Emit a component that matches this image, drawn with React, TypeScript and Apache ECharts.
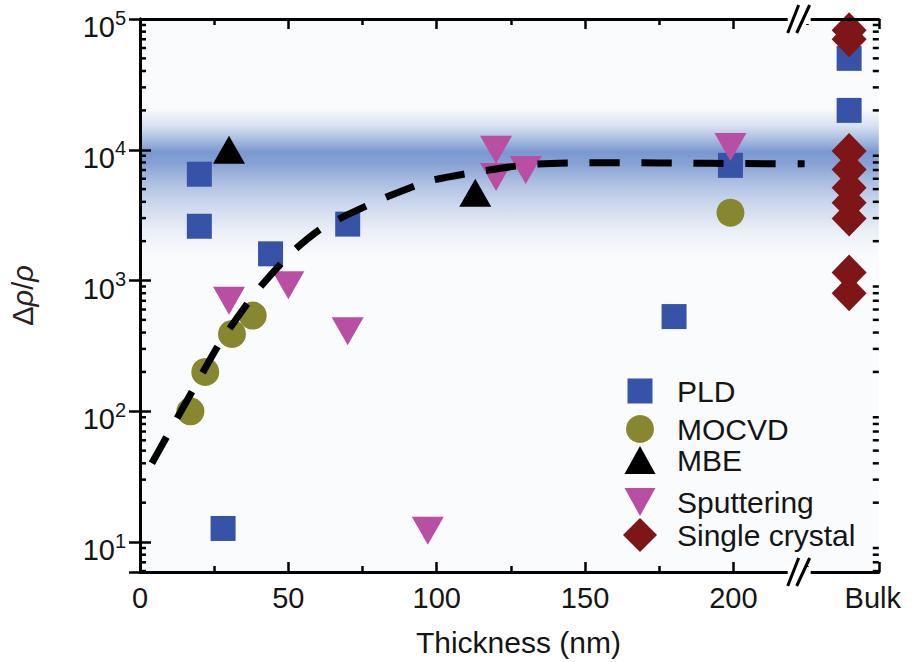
import React, { useEffect, useRef } from 'react';
import * as echarts from 'echarts';

// Axis extents (thickness in nm; resistance ratio on a log scale)
const X_MAX = 249;
const BULK_X = 239;
const BREAK_X = 222;
const Y_MIN = 5.9;
const Y_MAX = 100000;
const X_LABELS = [0, 50, 100, 150, 200];
const DECADES = [1, 10, 100, 1000, 10000];
const MANTISSAS = [2, 3, 4, 5, 6, 7, 8, 9];

// Measurements by growth technique
const PLD_X = [20, 20, 28, 44, 70, 180, 199, BULK_X, BULK_X];
const PLD_Y = [6500, 2600, 12.7, 1600, 2700, 530, 7600, 50000, 20000];

const MOCVD_X = [17, 22, 31, 38, 199];
const MOCVD_Y = [100, 200, 390, 540, 3300];

const MBE_X = [30, 113];
const MBE_Y = [10000, 4700];

const SPUT_X = [30, 50, 70, 97, 120, 120, 130, 199];
const SPUT_Y = [700, 920, 410, 12.2, 10000, 6200, 7000, 10500];

const SC_X = [BULK_X, BULK_X, BULK_X, BULK_X, BULK_X, BULK_X, BULK_X, BULK_X, BULK_X];
const SC_Y = [82000, 70000, 9800, 7050, 5130, 3940, 2980, 1150, 800];

// Guide-to-the-eye curve
const FIT_X = [4, 9, 19, 27, 39, 51, 62, 81, 97, 114, 131, 149, 166, 184, 200, 224];
const FIT_Y = [40, 64, 162, 336, 810, 1630, 2580, 4150, 5730, 6800, 7700, 7950, 7950, 7900, 7850, 7800];

// Shaded band around the bulk value
const BAND_TOP = 21000;
const BAND_BOTTOM = 1550;

const FONT = '"Liberation Sans", Arial, Helvetica, sans-serif';
const INK = '#151515';

const COLORS = {
  pld: '#3653a8',
  mocvd: '#86872f',
  mbe: '#000000',
  sput: '#b84fa3',
  sc: '#7e1517',
};

const zip = (xs: number[], ys: number[]) => xs.map((x, i) => [x, ys[i]]);

const MINOR_Y = DECADES.flatMap((d) => MANTISSAS.map((m) => m * d)).filter((v) => v > Y_MIN && v < Y_MAX);

const DOWN_TRIANGLE = 'path://M0,0L32,0L16,28Z';

const LEGEND_ROWS = [
  { name: 'PLD', center: 391, w: 25, h: 25, icon: 'rect' },
  { name: 'MOCVD', center: 429, w: 28, h: 28, icon: 'circle' },
  { name: 'MBE', center: 460, w: 31, h: 28, icon: 'triangle' },
  { name: 'Sputtering', center: 502, w: 31, h: 28, icon: DOWN_TRIANGLE },
  { name: 'Single crystal', center: 535, w: 34, h: 34, icon: 'diamond' },
];
const LEGEND_LINE = 32;
const LEGEND_ICON_CX = 640;
const LEGEND_TEXT_X = 677;

export default function App() {
  const ref = useRef<HTMLDivElement>(null);

  useEffect(() => {
    if (!ref.current) return;
    const chart = echarts.init(ref.current, null, { renderer: 'svg' });

    const axisLine = { show: true, lineStyle: { color: '#000', width: 3 } };

    const option: any = {
      animation: false,
      backgroundColor: '#ffffff',
      grid: {
        left: 140,
        right: 29,
        top: 19,
        bottom: 89,
        show: true,
        backgroundColor: '#fafbfd',
        borderWidth: 0,
      },
      legend: LEGEND_ROWS.map((r) => ({
        data: [{ name: r.name, icon: r.icon }],
        orient: 'vertical',
        left: LEGEND_ICON_CX - r.w / 2,
        top: r.center - Math.max(r.h, LEGEND_LINE) / 2,
        padding: 0,
        itemWidth: r.w,
        itemHeight: r.h,
        symbolKeepAspect: false,
        selectedMode: false,
        textStyle: {
          fontSize: 30,
          color: INK,
          fontFamily: FONT,
          lineHeight: LEGEND_LINE,
          padding: [0, 0, 0, LEGEND_TEXT_X - (LEGEND_ICON_CX + r.w / 2 + 5)],
        },
      })),
      xAxis: [
        {
          type: 'value',
          position: 'bottom',
          min: 0,
          max: X_MAX,
          interval: 50,
          z: 10,
          axisLine,
          splitLine: { show: false },
          axisTick: { show: true, inside: true, length: 10, lineStyle: { color: '#000', width: 2.5 } },
          minorTick: { show: true, splitNumber: 2, length: 6, lineStyle: { color: '#000', width: 2.5 } },
          axisLabel: {
            showMaxLabel: true,
            showMinLabel: true,
            margin: 11,
            fontSize: 29,
            lineHeight: 29,
            color: INK,
            fontFamily: FONT,
            formatter: (v: number) => {
              if (Math.abs(v - X_MAX) < 1e-6) return '{bulk|Bulk}';
              return X_LABELS.includes(Math.round(v)) && Math.abs(v - Math.round(v)) < 1e-6 ? String(Math.round(v)) : '';
            },
            rich: {
              bulk: { fontSize: 29, lineHeight: 29, color: INK, fontFamily: FONT, padding: [0, 12, 0, 0] },
            },
          },
          name: 'Thickness (nm)',
          nameLocation: 'middle',
          nameGap: 55,
          nameTextStyle: { fontSize: 30, lineHeight: 30, color: INK, fontFamily: FONT, padding: [0, 0, 0, 18] },
        },
        {
          type: 'value',
          position: 'top',
          min: 0,
          max: X_MAX,
          interval: 50,
          z: 10,
          axisLine,
          splitLine: { show: false },
          axisTick: { show: true, inside: true, length: 10, lineStyle: { color: '#000', width: 2.5 } },
          minorTick: { show: true, splitNumber: 2, length: 6, lineStyle: { color: '#000', width: 2.5 } },
          axisLabel: { show: false },
        },
      ],
      yAxis: [
        {
          type: 'log',
          logBase: 10,
          position: 'left',
          min: Y_MIN,
          max: Y_MAX,
          z: 10,
          axisLine,
          splitLine: { show: false },
          axisTick: { show: true, inside: true, length: 11, lineStyle: { color: '#000', width: 2.5 } },
          axisLabel: {
            margin: 14,
            color: INK,
            fontFamily: FONT,
            padding: [11, 0, 0, 0],
            formatter: (v: number) => {
              const lg = Math.log10(v);
              const e = Math.round(lg);
              if (Math.abs(lg - e) > 1e-6) return '';
              return `{b|10}{s|${e}}`;
            },
            rich: {
              b: { fontSize: 29, lineHeight: 34, verticalAlign: 'bottom', color: INK, fontFamily: FONT },
              s: { fontSize: 20, lineHeight: 20, verticalAlign: 'top', color: INK, fontFamily: FONT },
            },
          },
          name: '{d|Δ}{r|ρ}{d|/}{r|ρ}',
          nameLocation: 'middle',
          nameRotate: 90,
          nameGap: 102,
          nameTextStyle: {
            color: '#2a201c',
            fontFamily: FONT,
            fontSize: 29,
            lineHeight: 30,
            rich: {
              d: { fontSize: 29, color: '#2a201c', fontFamily: FONT },
              r: { fontSize: 29, color: '#2a201c', fontFamily: FONT, fontStyle: 'italic' },
            },
          },
        },
        {
          type: 'log',
          logBase: 10,
          position: 'right',
          min: Y_MIN,
          max: Y_MAX,
          z: 10,
          axisLine,
          splitLine: { show: false },
          axisTick: { show: true, inside: true, length: 11, lineStyle: { color: '#000', width: 2.5 } },
          axisLabel: { show: false },
        },
      ],
      series: [
        {
          name: 'fit',
          type: 'line',
          data: zip(FIT_X, FIT_Y),
          symbol: 'none',
          smooth: 0.2,
          silent: true,
          lineStyle: { color: '#000', width: 7, type: [30, 22], cap: 'butt' },
          markArea: {
            silent: true,
            z: 1,
            itemStyle: {
              color: new echarts.graphic.LinearGradient(0, 0, 0, 1, [
                { offset: 0, color: 'rgba(122,152,208,0)' },
                { offset: 0.12, color: 'rgba(122,152,208,0.25)' },
                { offset: 0.22, color: 'rgba(122,152,208,0.65)' },
                { offset: 0.3, color: 'rgba(122,152,208,1)' },
                { offset: 0.38, color: 'rgba(122,152,208,0.9)' },
                { offset: 0.5, color: 'rgba(122,152,208,0.62)' },
                { offset: 0.65, color: 'rgba(122,152,208,0.36)' },
                { offset: 0.82, color: 'rgba(122,152,208,0.14)' },
                { offset: 1, color: 'rgba(122,152,208,0)' },
              ]),
            },
            data: [[{ yAxis: BAND_TOP }, { yAxis: BAND_BOTTOM }]],
          },
        },
        {
          name: 'PLD',
          type: 'scatter',
          data: zip(PLD_X, PLD_Y),
          symbol: 'rect',
          symbolSize: 25,
          itemStyle: { color: COLORS.pld, opacity: 1 },
        },
        {
          name: 'MOCVD',
          type: 'scatter',
          data: zip(MOCVD_X, MOCVD_Y),
          symbol: 'circle',
          symbolSize: 28,
          itemStyle: { color: COLORS.mocvd, opacity: 1 },
        },
        {
          name: 'MBE',
          type: 'scatter',
          data: zip(MBE_X, MBE_Y),
          symbol: 'triangle',
          symbolSize: [32, 28],
          itemStyle: { color: COLORS.mbe, opacity: 1 },
        },
        {
          name: 'Sputtering',
          type: 'scatter',
          data: zip(SPUT_X, SPUT_Y),
          symbol: 'triangle',
          symbolRotate: 180,
          symbolSize: [32, 28],
          itemStyle: { color: COLORS.sput, opacity: 1 },
        },
        {
          name: 'Single crystal',
          type: 'scatter',
          data: zip(SC_X, SC_Y),
          symbol: 'diamond',
          symbolSize: [35, 36],
          itemStyle: { color: COLORS.sc, opacity: 1 },
        },
        {
          // logarithmic minor ticks on the left and right frame
          name: 'minor',
          type: 'custom',
          silent: true,
          clip: false,
          z: 11,
          data: MINOR_Y.map((v) => [0, v]),
          renderItem: (params: any, api: any) => {
            const cs = params.coordSys;
            const y = api.coord([0, api.value(1)])[1];
            const style = { stroke: '#000', lineWidth: 2.5 };
            return {
              type: 'group',
              children: [
                { type: 'line', shape: { x1: cs.x, y1: y, x2: cs.x + 6, y2: y }, style },
                { type: 'line', shape: { x1: cs.x + cs.width - 6, y1: y, x2: cs.x + cs.width, y2: y }, style },
              ],
            };
          },
        },
      ],
    };

    chart.setOption(option);

    // axis break marks "//" on the top and bottom frame
    const bx = chart.convertToPixel({ xAxisIndex: 0 }, BREAK_X) as number;
    const yTop = chart.convertToPixel({ yAxisIndex: 0 }, Y_MAX) as number;
    const yBot = chart.convertToPixel({ yAxisIndex: 0 }, Y_MIN) as number;
    const breakMark = (y: number) => ({
      type: 'group',
      z: 100,
      children: [
        { type: 'rect', shape: { x: bx - 11, y: y - 5, width: 23, height: 10 }, style: { fill: '#ffffff' }, z: 100 },
        { type: 'line', shape: { x1: bx - 11, y1: y + 14, x2: bx, y2: y - 14 }, style: { stroke: '#000', lineWidth: 3 }, z: 101 },
        { type: 'line', shape: { x1: bx - 2, y1: y + 14, x2: bx + 11, y2: y - 14 }, style: { stroke: '#000', lineWidth: 3 }, z: 101 },
      ],
    });
    chart.setOption({ graphic: [breakMark(yTop), breakMark(yBot)] });

    return () => chart.dispose();
  }, []);

  return (
    <div
      ref={ref}
      style={{ position: 'fixed', left: 0, top: 0, width: 916, height: 662 }}
    />
  );
}
